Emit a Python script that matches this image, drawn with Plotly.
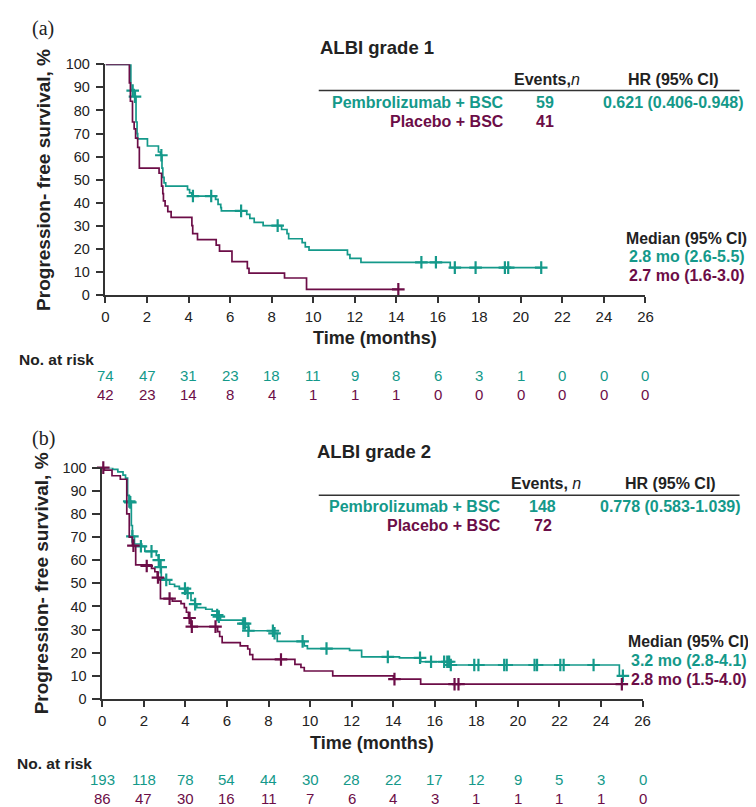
import plotly.graph_objects as go

# ---------------- data ----------------
months_ticks = [0, 2, 4, 6, 8, 10, 12, 14, 16, 18, 20, 22, 24, 26]
pct_ticks = [0, 10, 20, 30, 40, 50, 60, 70, 80, 90, 100]

# Panel (a) ALBI grade 1
a_pem_t = [0, 1.22, 1.38, 1.47, 1.52, 1.55, 2.02, 2.55, 2.65, 2.72, 2.76, 2.82, 2.9, 3.95, 4.05, 4.16,
           5.3, 5.42, 5.55, 5.58, 6.8, 6.95, 7.16, 7.59, 8.48, 8.74, 8.82, 9.47, 9.62, 9.8, 11.65, 11.77, 12.3, 16.6]
a_pem_s = [100, 89, 86, 75, 70, 67.7, 64.6, 62, 60.6, 55, 51, 48.6, 47.2, 45.7, 44.3, 42.9,
           41.5, 39.3, 37.9, 36.5, 35, 33.2, 31.5, 30.1, 28.4, 26.6, 24.4, 22.7, 20.9, 19.5, 17.5, 15.9, 14.2, 11.9]
a_pem_ct = [1.31, 1.42, 2.69, 4.21, 5.09, 6.53, 8.29, 15.21, 15.91, 16.82, 17.82, 19.23, 19.39, 20.98]
a_pem_cs = [88.6, 86, 60.6, 42.9, 42.9, 36.5, 30.1, 14.2, 14.2, 11.9, 11.9, 11.9, 11.9, 11.9]

a_pla_t = [0, 1.15, 1.2, 1.3, 1.38, 1.45, 1.55, 1.63, 2.58, 2.7, 2.76, 2.79, 2.87, 3.0, 3.16, 4.16, 4.2,
           4.43, 5.33, 5.49, 6.09, 6.83, 6.91, 8.62, 9.68]
a_pla_s = [100, 92, 84, 75, 72, 68, 64, 55, 52.8, 47.2, 44, 40.8, 38.6, 36.2, 33.7, 30.1, 26.6,
           24, 21.6, 19, 14.5, 11.6, 9.5, 7.4, 2.5]
a_pla_ct = [14.1]
a_pla_cs = [2.5]

a_risk_pem = [74, 47, 31, 23, 18, 11, 9, 8, 6, 3, 1, 0, 0, 0]
a_risk_pla = [42, 23, 14, 8, 4, 1, 1, 1, 0, 0, 0, 0, 0, 0]

# Panel (b) ALBI grade 2
b_pem_t = [0, 0.5, 0.75, 1.0, 1.12, 1.22, 1.3, 1.4, 1.45, 1.55, 1.9, 2.05, 2.6, 2.7, 2.78, 2.84, 3.0,
           3.24, 3.48, 3.71, 4.03, 4.27, 4.45, 4.55, 4.98, 5.29, 5.55, 5.69, 6.75, 6.9, 7.06, 8.25,
           8.42, 9.72, 9.87, 11.9, 12.48, 14.3, 15.32, 16.77, 24.88]
b_pem_s = [100, 99.3, 98.2, 96.8, 95.5, 88, 85.4, 75, 70.3, 67, 66, 63.8, 62.1, 60, 57, 52.2, 51.5,
           49.6, 48.7, 47.7, 45.8, 42.6, 41, 39.5, 38.8, 38, 36.3, 34.1, 32.6, 31, 29.5, 28.4,
           24.9, 23, 21.8, 21, 18.2, 17.8, 16.1, 14.7, 10]
b_pem_ct = [1.3, 1.35, 1.45, 1.86, 2.37, 2.72, 2.81, 3.08, 3.98, 4.11, 4.47, 5.53, 5.61, 6.79, 6.87,
            7.03, 8.21, 8.29, 9.64, 10.79, 13.74, 15.29, 15.82, 16.45, 16.6, 16.69, 16.77, 17.9, 18.1,
            19.34, 19.46, 20.8, 20.92, 22.04, 22.2, 23.64, 25.05]
b_pem_cs = [85.4, 85, 70.3, 66, 63.8, 60, 57, 51.5, 47.7, 45.8, 41, 36.3, 35.6, 32.6, 32.6,
            29.5, 29.5, 28.4, 24.9, 21.8, 18.2, 17.8, 16.1, 16.1, 16.1, 16.1, 14.7, 14.7, 14.7,
            14.7, 14.7, 14.7, 14.7, 14.7, 14.7, 14.7, 10]

b_pla_t = [0, 0.1, 0.47, 0.87, 1.18, 1.3, 1.45, 1.61, 2.37, 2.53, 2.65, 2.73, 2.8, 3.37, 3.79, 3.95,
           4.05, 4.15, 4.27, 5.55, 5.65, 5.77, 6.64, 7.0, 7.1, 7.24, 9.27, 9.56, 9.72, 11.09, 14.01, 15.32]
b_pla_s = [100, 98.9, 96.5, 95, 80, 70, 66.3, 58, 56.5, 55, 52.5, 51.5, 43.4, 42.3, 41.2, 39.5,
           37.5, 35, 31.3, 29.1, 27, 24.4, 23, 21.6, 19.2, 17.1, 15, 13.6, 12.1, 10, 8.6, 6.4]
b_pla_ct = [0.05, 1.5, 2.14, 2.68, 3.24, 4.2, 4.31, 5.45, 8.6, 14.06, 16.95, 17.14, 25.0]
b_pla_cs = [100, 66.3, 57.5, 52.5, 43.4, 35, 31.3, 31.3, 17.1, 8.6, 6.4, 6.4, 6.4]

b_risk_pem = [193, 118, 78, 54, 44, 30, 28, 22, 17, 12, 9, 5, 3, 0]
b_risk_pla = [86, 47, 30, 16, 11, 7, 6, 4, 3, 1, 1, 1, 1, 0]

# ---------------- style ----------------
W, H = 756, 807
TEAL = "#14998a"
PURP = "#6c0d47"
DARK = "#222222"
AX = "#333333"
SANS = "Liberation Sans, Arial, sans-serif"
SERIF = "Liberation Serif, Times New Roman, serif"


def X(px):
    return px / W


def Y(py):
    return 1 - py / H


fig = go.Figure()


def add_curve(t, s, ct, cs, color, xa, ya):
    end_t = max(ct + [t[-1]])
    xs = list(t) + [end_t]
    ys = list(s) + [s[-1]]
    fig.add_trace(go.Scatter(x=xs, y=ys, mode="lines", line=dict(color=color, width=1.7, shape="hv"),
                             xaxis=xa, yaxis=ya, showlegend=False, hoverinfo="skip", cliponaxis=False))
    fig.add_trace(go.Scatter(x=ct, y=cs, mode="markers",
                             marker=dict(symbol="cross-thin", size=9, line=dict(color=color, width=2.2)),
                             xaxis=xa, yaxis=ya, showlegend=False, hoverinfo="skip", cliponaxis=False))


add_curve(a_pem_t, a_pem_s, a_pem_ct, a_pem_cs, TEAL, "x", "y")
add_curve(a_pla_t, a_pla_s, a_pla_ct, a_pla_cs, PURP, "x", "y")
add_curve(b_pem_t, b_pem_s, b_pem_ct, b_pem_cs, TEAL, "x2", "y2")
add_curve(b_pla_t, b_pla_s, b_pla_ct, b_pla_cs, PURP, "x2", "y2")

xcommon = dict(range=[0, 26], tickvals=months_ticks, ticks="outside", ticklen=6, tickwidth=1.5,
               tickcolor=AX, showline=True, linecolor=AX, linewidth=1.5, showgrid=False, zeroline=False,
               tickfont=dict(family=SANS, size=15, color=DARK), fixedrange=True, ticklabelstandoff=1)
ycommon = dict(range=[0, 100], tickvals=pct_ticks, ticks="outside", ticklen=8, tickwidth=1.5,
               tickcolor=AX, showline=True, linecolor=AX, linewidth=1.5, showgrid=False, zeroline=False,
               tickfont=dict(family=SANS, size=14.5, color=DARK), fixedrange=True, ticklabelstandoff=3)

fig.update_layout(
    width=W, height=H, margin=dict(l=0, r=0, t=0, b=0),
    paper_bgcolor="white", plot_bgcolor="white",
    xaxis=dict(domain=[X(95), X(643.7)], anchor="y", **xcommon),
    yaxis=dict(domain=[Y(284.7), Y(49.3)], anchor="x", **ycommon),
    xaxis2=dict(domain=[X(91.7), X(640.8)], anchor="y2", **xcommon),
    yaxis2=dict(domain=[Y(696.8), Y(460.8)], anchor="x2", **ycommon),
)

ann = []


def txt(text, px, py, size=16, color=DARK, xanchor="center", bold=True, family=SANS, angle=0):
    t = f"<b>{text}</b>" if bold else text
    ann.append(dict(text=t, x=X(px), y=Y(py), xref="paper", yref="paper", xanchor=xanchor,
                    yanchor="middle", showarrow=False, textangle=angle,
                    font=dict(family=family, size=size, color=color)))


panels = [
    dict(tag="(a)", tagy=13, title="ALBI grade 1", titlex=311, titley=32.5,
         ev_hdr="Events,<i>n</i>", hdr_y=65, evx=544, hrx=671.7, line_y=76,
         row1=88.3, row2=107.3, labx=501.7, nx=541.7,
         pem_n="59", pla_n="41", hr="0.621 (0.406-0.948)",
         medx=749, medy=226.7, med1="2.8 mo (2.6-5.5)", med2="2.7 mo (1.6-3.0)", medvx=747,
         timex=369.3, timey=329, nar_x=5, nar_y=350.7, rk1=367, rk2=386,
         ytx=31.7, yty=167, xref="x", rp=a_risk_pem, rq=a_risk_pla),
    dict(tag="(b)", tagy=431, title="ALBI grade 2", titlex=308, titley=444,
         ev_hdr="Events, <i>n</i>", hdr_y=477.3, evx=543, hrx=669.5, line_y=489,
         row1=500.7, row2=520, labx=499.3, nx=539.5,
         pem_n="148", pla_n="72", hr="0.778 (0.583-1.039)",
         medx=751, medy=638.3, med1="3.2 mo (2.8-4.1)", med2="2.8 mo (1.5-4.0)", medvx=749,
         timex=366.2, timey=741.7, nar_x=3, nar_y=762.7, rk1=779.3, rk2=798.3,
         ytx=29.5, yty=578.8, xref="x2", rp=b_risk_pem, rq=b_risk_pla),
]

shapes = []
for p in panels:
    txt(p["tag"], 18, p["tagy"], size=20, xanchor="left", bold=False, family=SERIF)
    txt(p["title"], p["titlex"], p["titley"], size=18.5, xanchor="left")
    ann.append(dict(text="<b>" + p["ev_hdr"].replace("<i>n</i>", "</b><i>n</i>"), x=X(p["evx"]),
                    y=Y(p["hdr_y"]), xref="paper", yref="paper", xanchor="center", yanchor="middle",
                    showarrow=False, font=dict(family=SANS, size=16, color=DARK)))
    txt("HR (95% CI)", p["hrx"], p["hdr_y"])
    shapes.append(dict(type="line", xref="paper", yref="paper", x0=X(311.7), x1=X(739.3),
                       y0=Y(p["line_y"]), y1=Y(p["line_y"]), line=dict(color=AX, width=1.5)))
    txt("Pembrolizumab + BSC", p["labx"], p["row1"], color=TEAL, xanchor="right")
    txt("Placebo + BSC", p["labx"], p["row2"], color=PURP, xanchor="right")
    txt(p["pem_n"], p["nx"], p["row1"], color=TEAL)
    txt(p["pla_n"], p["nx"], p["row2"], color=PURP)
    txt(p["hr"], p["hrx"], p["row1"], color=TEAL)
    txt("Median (95% CI)", p["medx"], p["medy"], size=15.8, xanchor="right")
    txt(p["med1"], p["medvx"], p["medy"] + 19, color=TEAL, xanchor="right")
    txt(p["med2"], p["medvx"], p["medy"] + 38.5, color=PURP, xanchor="right")
    txt("Time (months)", p["timex"], p["timey"], size=18)
    txt("No. at risk", p["nar_x"], p["nar_y"], size=15.5, xanchor="left")
    txt("Progression- free survival, %", p["ytx"], p["yty"], size=19, angle=-90)
    for m, v1, v2 in zip(months_ticks, p["rp"], p["rq"]):
        for v, py, col in ((v1, p["rk1"], TEAL), (v2, p["rk2"], PURP)):
            ann.append(dict(text=str(v), x=m, y=Y(py), xref=p["xref"], yref="paper",
                            xanchor="center", yanchor="middle", showarrow=False,
                            font=dict(family=SANS, size=15, color=col)))

fig.update_layout(annotations=ann, shapes=shapes)
fig.write_html("out.html")
